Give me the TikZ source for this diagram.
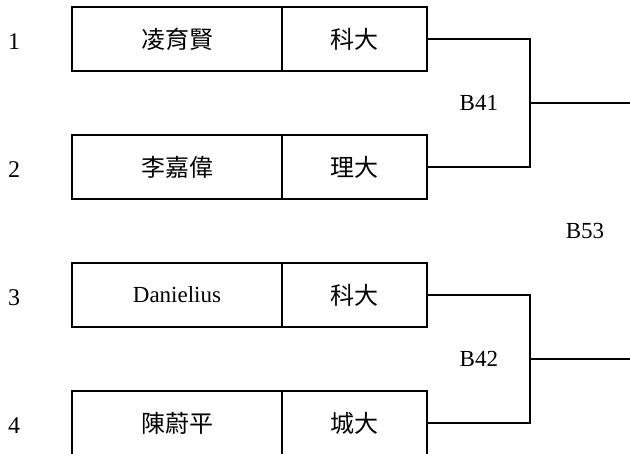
\documentclass[tikz,border=0pt]{standalone}
\usepackage{fontspec}
\setmainfont{Liberation Serif}
\newfontfamily\cjk{Noto Sans CJK TC}
\usetikzlibrary{positioning}

\begin{document}
\begin{tikzpicture}[x=1pt,y=-1pt,line width=1.3pt,
  namecell/.style={draw,outer sep=0pt,inner sep=0pt,minimum width=210pt,minimum height=64pt,font=\fontsize{23}{27}\selectfont},
  schoolcell/.style={draw,outer sep=0pt,inner sep=0pt,minimum width=145pt,minimum height=64pt,font=\cjk\fontsize{24}{28}\selectfont},
  seed/.style={font=\fontsize{24}{28}\selectfont},
  matchlabel/.style={font=\fontsize{23}{27}\selectfont}]%
\useasboundingbox (0,0) rectangle (630,454);%
%
\def\idx{1};%
\def\ypos{39};%
\def\playerName{\cjk\fontsize{24}{28}\selectfont 凌育賢};%
\def\schoolName{科大};%
\node[namecell] (name\idx) at (177,\ypos) {\playerName};%
\node[schoolcell,right=0pt of name\idx] (school\idx) {\schoolName};%
\node[seed,left=48pt of name\idx,yshift=-3pt] (seed\idx) {\idx};%
%
\def\idx{2};%
\def\ypos{167};%
\def\playerName{\cjk\fontsize{24}{28}\selectfont 李嘉偉};%
\def\schoolName{理大};%
\node[namecell] (name\idx) at (177,\ypos) {\playerName};%
\node[schoolcell,right=0pt of name\idx] (school\idx) {\schoolName};%
\node[seed,left=48pt of name\idx,yshift=-3pt] (seed\idx) {\idx};%
%
\def\idx{3};%
\def\ypos{295};%
\def\playerName{Danielius};%
\def\schoolName{科大};%
\node[namecell] (name\idx) at (177,\ypos) {\playerName};%
\node[schoolcell,right=0pt of name\idx] (school\idx) {\schoolName};%
\node[seed,left=48pt of name\idx,yshift=-3pt] (seed\idx) {\idx};%
%
\def\idx{4};%
\def\ypos{423};%
\def\playerName{\cjk\fontsize{24}{28}\selectfont 陳蔚平};%
\def\schoolName{城大};%
\node[namecell] (name\idx) at (177,\ypos) {\playerName};%
\node[schoolcell,right=0pt of name\idx] (school\idx) {\schoolName};%
\node[seed,left=48pt of name\idx,yshift=-3pt] (seed\idx) {\idx};%
%
% brackets
\coordinate (j41) at (530,103);%
\coordinate (out41) at (630,103);%
\draw (school1.east) -| (j41);%
\draw (school2.east) -| (j41);%
\draw (j41) -- (out41);%
\node[matchlabel,left=28pt of j41] (lab41) {B41};%
%
\coordinate (j42) at (530,359);%
\coordinate (out42) at (630,359);%
\draw (school3.east) -| (j42);%
\draw (school4.east) -| (j42);%
\draw (j42) -- (out42);%
\node[matchlabel,left=28pt of j42] (lab42) {B42};%
%
\node[matchlabel] (lab53) at (585,231) {B53};%
%
\end{tikzpicture}
\end{document}
